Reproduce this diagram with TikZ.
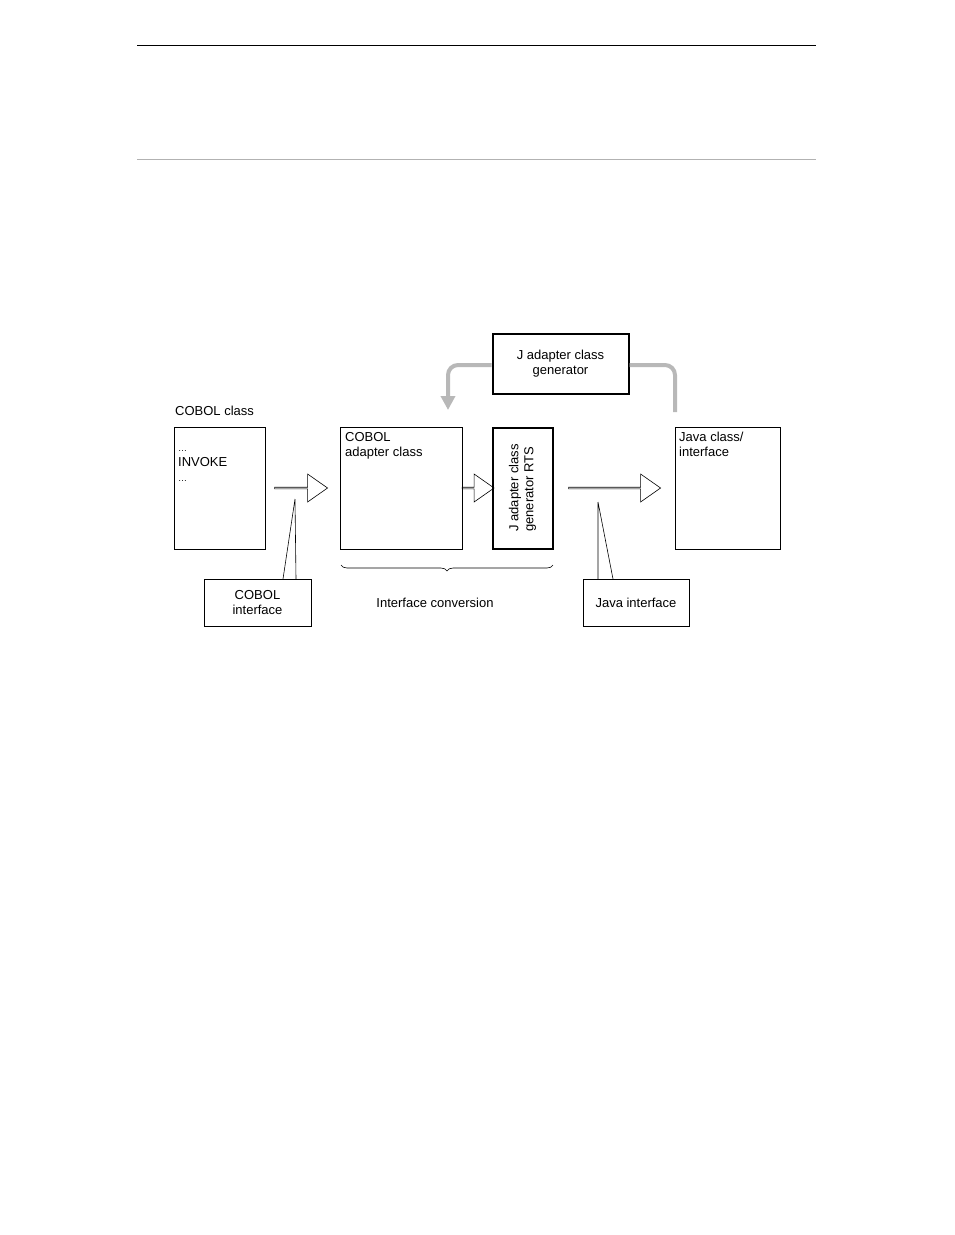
\documentclass[tikz,border=0pt]{standalone}
\usepackage{fontspec}
\setmainfont{Liberation Sans}
\usetikzlibrary{arrows.meta,decorations.pathreplacing,shapes.arrows}
\begin{document}
\begin{tikzpicture}[x=1pt,y=-1pt,
  box/.style={draw,line width=0.6pt,inner sep=0},
  thick box/.style={draw,line width=2pt,inner sep=0},
  txt/.style={font=\fontsize{13}{15}\selectfont,align=left,inner sep=0},
  hollow/.style={draw,line width=0.6pt,single arrow,single arrow head extend=5pt,minimum height=#1,minimum width=28pt,inner sep=0,single arrow tip angle=70, shape border uses incircle=false},
  gray arrow/.style={draw=black!28,line width=4pt,rounded corners=10pt,-{Triangle[length=14pt,width=14pt]}},
  callout/.style={line width=0.6pt}]
\useasboundingbox (0,0) rectangle (954,1235);
\coordinate (r1a) at (137,45); \coordinate (r1b) at (816,45);
\coordinate (r2a) at (137,159); \coordinate (r2b) at (816,159);
\draw[line width=0.8pt] (r1a) -- (r1b);
\draw[black!30,line width=0.6pt] (r2a) -- (r2b);

\node[box,minimum width=91pt,minimum height=122pt] (cc) at (219.5,488) {};
\node[txt,anchor=south west] (ccl) at (175,416) {COBOL class};
\node[txt,anchor=north west] (cct) at (178,450) {\fontsize{9}{12}\selectfont\dots\\INVOKE\\\fontsize{9}{12}\selectfont\dots};

\node[box,minimum width=122pt,minimum height=122pt] (ca) at (401,488) {};
\node[txt,anchor=north west] (cat) at (345,432) {COBOL\\adapter class};

\node[thick box,minimum width=60pt,minimum height=121pt] (rts) at (522.5,488) {};
\node[txt,rotate=90,align=left] (rtst) at (522.5,488) {J adapter class\\generator RTS};

\node[box,minimum width=105pt,minimum height=122pt] (jc) at (727.5,488) {};
\node[txt,anchor=north west] (jct) at (679,432) {Java class/\\interface};

\node[thick box,minimum width=136pt,minimum height=60pt,txt,align=center] (gen) at (560.5,363.5) {J adapter class\\generator};

\node[box,minimum width=107pt,minimum height=47pt,txt,align=center] (ci) at (257.5,602.5) {COBOL\\interface};
\node[box,minimum width=106pt,minimum height=47pt,txt,align=center] (ji) at (636,602.5) {Java interface};

\node[hollow=53pt] (a1) at (300.5,488) {};
\node[hollow=32pt] (a2) at (477.5,488) {};
\node[hollow=92pt] (a3) at (614,488) {};

\coordinate (g1) at (448,410);
\coordinate (g2) at (675,412);
\draw[gray arrow] (gen.west|-0,365) -- (448,365) -- (g1);
\draw[black!28,line width=4pt,rounded corners=10pt] (gen.east|-0,365) -- (675,365) -- (g2);

\coordinate (p1) at (295,499); \coordinate (p1b) at (283,579); \coordinate (p1c) at (296,579);
\draw[callout] (p1) -- (p1b) (p1) -- (p1c);
\coordinate (p2) at (598,502); \coordinate (p2b) at (598,579); \coordinate (p2c) at (613,579);
\draw[callout] (p2) -- (p2b) (p2) -- (p2c);

\coordinate (b1) at (341,565); \coordinate (b2) at (553,565);
\draw[line width=0.6pt,decorate,decoration={brace,mirror,amplitude=6pt}] (b1) -- (b2);
\node[txt] (ic) at (435,603) {Interface conversion};
\end{tikzpicture}
\end{document}
